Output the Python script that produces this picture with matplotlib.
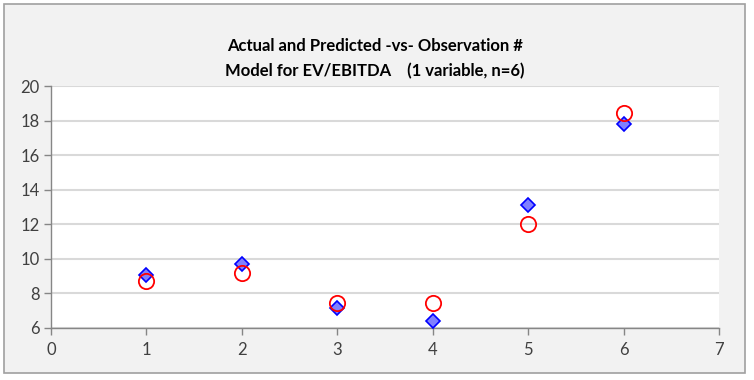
import matplotlib.pyplot as plt
from matplotlib.patches import Rectangle

# Data
observation = [1, 2, 3, 4, 5, 6]
actual = [9.06, 9.68, 7.13, 6.38, 13.14, 17.83]
predicted = [8.73, 9.16, 7.42, 7.46, 11.99, 18.44]

title_lines = ["Actual and Predicted -vs- Observation #",
               "Model for EV/EBITDA    (1 variable, n=6)"]

W, H, DPI = 754, 380, 100

plt.rcParams['font.family'] = ['Lato', 'DejaVu Sans']

fig = plt.figure(figsize=(W / DPI, H / DPI), dpi=DPI, facecolor='white')

# chart area frame (Excel style), kept behind the axes
fig.patches.append(Rectangle((4 / W, 1 - 373 / H), 741 / W, 369 / H,
                             transform=fig.transFigure, facecolor='#f2f2f2',
                             edgecolor='#a0a0a0', linewidth=1.2, zorder=-10))

ax = fig.add_axes([51 / W, 1 - 328 / H, (719 - 51) / W, (328 - 86) / H])
ax.set_facecolor('white')

ax.set_xlim(0, 7)
ax.set_ylim(6, 20)
ax.set_xticks(range(0, 8))
ax.set_yticks(range(6, 21, 2))

ax.grid(True, axis='y', color='#d9d9d9', linewidth=1.5, zorder=0)
ax.set_axisbelow(True)
for side in ['top', 'right']:
    ax.spines[side].set_visible(False)
for side in ['left', 'bottom']:
    ax.spines[side].set_color('#868686')
    ax.spines[side].set_linewidth(1.0)

ax.tick_params(axis='both', colors='#868686', labelcolor='#404040',
               labelsize=12, length=5, width=1)
ax.tick_params(axis='x', pad=5)
ax.tick_params(axis='y', pad=3)

ax.plot(observation, actual, linestyle='none', marker='D', markersize=7.5,
        markerfacecolor='#8080ff', markeredgecolor='#0000ff',
        markeredgewidth=1.2, zorder=3, clip_on=False)
ax.plot(observation, predicted, linestyle='none', marker='o', markersize=11,
        markerfacecolor='none', markeredgecolor='#ff0000',
        markeredgewidth=1.3, zorder=4, clip_on=False)

fig.text(375 / W, 1 - 46 / H, title_lines[0], ha='center', va='center',
         fontsize=12, fontweight='bold', color='#000000')
fig.text(375 / W, 1 - 71 / H, title_lines[1], ha='center', va='center',
         fontsize=12, fontweight='bold', color='#000000')

fig.savefig('out.png', dpi=DPI)
